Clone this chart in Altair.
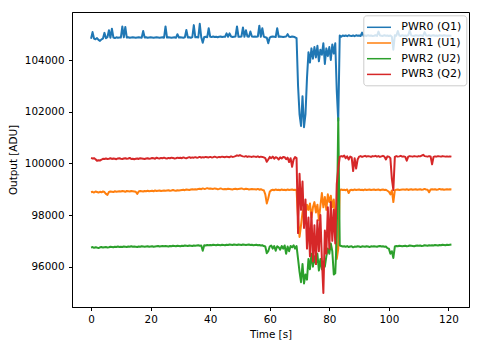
import altair as alt
import pandas as pd

# sample times (0.5 s sampling, 0 .. 121 s)
times = [round(i * 0.5, 1) for i in range(243)]

series_names = ["PWR0 (Q1)", "PWR1 (U1)", "PWR2 (U2)", "PWR3 (Q2)"]
series_colors = ["#1f77b4", "#ff7f0e", "#2ca02c", "#d62728"]

pwr0 = [
    104820, 105080, 104830, 104800, 104850, 104780, 104740, 104800, 104830, 105050,
    104840, 104880, 105150, 104860, 105210, 104870, 104850, 104880, 104860, 104870,
    104870, 105300, 104880, 105280, 104870, 104880, 104860, 104870, 104880, 104870,
    104860, 104870, 104880, 104870, 104860, 105120, 104870, 104880, 104860, 104870,
    104880, 104870, 104860, 104870, 104880, 104870, 104860, 104870, 104880, 104860,
    105300, 104870, 104880, 104870, 104860, 104870, 104880, 104860, 105000, 104870,
    104880, 104870, 104860, 104880, 105160, 104870, 104880, 104860, 104890, 105350,
    104880, 104890, 104870, 105400, 104880, 104670, 104890, 104900, 104880, 105230,
    104900, 104890, 104910, 104890, 104900, 104880, 104900, 104910, 104890, 104900,
    104900, 105030, 104900, 105030, 104910, 104890, 104900, 104910, 105300, 104900,
    104900, 104910, 105260, 104900, 105150, 104910, 104900, 105100, 104910, 104900,
    104910, 104900, 104910, 105330, 104900, 105230, 104910, 104880, 104860, 104650,
    104870, 104900, 104910, 104900, 104890, 105230, 104900, 104910, 104900, 104890,
    104900, 104910, 105000, 104900, 104890, 104910, 104900, 104880, 104850, 103000,
    101900, 101450, 102600, 101400, 101900, 103300, 104300, 103900, 104450, 104050,
    104500, 104100, 104550, 103950, 104400, 104200, 104650, 103850, 104450, 104150,
    104500, 104000, 104600, 104250, 104650, 102800, 101650, 104950, 104900, 104950,
    104930, 104950, 104920, 104960, 104940, 104930, 104950, 104920, 104960, 104940,
    104950, 104930, 105060, 104940, 104950, 104930, 104960, 104940, 104950, 104930,
    104940, 104960, 104930, 105100, 104950, 104940, 104930, 104960, 104940, 104950,
    104930, 104950, 104900, 104400, 104960, 104940, 105120, 104950, 104930, 104960,
    104940, 104950, 104930, 104960, 105150, 104950, 104940, 104930, 104960, 104950,
    104940, 104960, 104950, 104930, 105080, 104950, 104940, 104960, 104930, 104950,
    104960, 104940, 104950, 104930, 104960, 104950, 104940, 104960, 104950, 104940,
    104950, 104940, 104950,
]

pwr1 = [
    98880, 98900, 98870, 98910, 98890, 98870, 98900, 98880, 98910, 98890,
    98820, 98780, 98890, 98910, 98900, 98890, 98920, 98900, 98910, 98920,
    98910, 98930, 98920, 98900, 98930, 98920, 98910, 98930, 98920, 98910,
    98900, 98820, 98910, 98930, 98920, 98910, 98930, 98920, 98940, 98920,
    98930, 98940, 98920, 98950, 98930, 98940, 98950, 98930, 98940, 98950,
    98940, 98950, 98960, 98940, 98950, 98970, 98950, 98940, 98960, 98950,
    98960, 98970, 98980, 98960, 98990, 98980, 98970, 98990, 99000, 98990,
    99000, 98990, 99010, 99020, 99000, 99030, 99010, 99020, 99040, 99020,
    99030, 99020, 99010, 99030, 99020, 99000, 99010, 99030, 99010, 99000,
    99010, 99000, 99020, 99010, 99000, 98990, 99010, 99020, 99000, 99010,
    99020, 99030, 99010, 99000, 99020, 99010, 98990, 99000, 99010, 99000,
    99000, 98990, 99010, 98980, 99000, 98970, 98960, 98800, 98450, 98650,
    98900, 98960, 98980, 98960, 98990, 98970, 98980, 98960, 98990, 98970,
    98980, 98960, 98990, 98970, 98980, 98990, 98970, 98980, 98950, 97900,
    97150, 97600, 98100, 98300, 98000, 98400, 98200, 98450, 97900, 98300,
    98500, 98100, 98400, 97800, 98350, 98850, 98300, 98700, 98200, 98800,
    98500, 98750, 98300, 98600, 97800, 96300, 96700, 98950, 98990, 98970,
    98980, 98960, 98990, 98850, 98970, 98980, 98960, 98990, 98970, 98980,
    98990, 98970, 98980, 98960, 98990, 98970, 98980, 98990, 98970, 98980,
    98990, 98970, 98980, 98990, 98960, 98980, 98990, 98970, 98980, 98940,
    98900, 98800, 98950, 98500, 98950, 98980, 98990, 98970, 98980, 98990,
    98990, 98980, 99000, 98970, 98990, 99000, 98980, 98990, 99000, 98980,
    98990, 99000, 98980, 98990, 99010, 98990, 98980, 98880, 98990, 99000,
    98990, 99000, 98980, 98990, 99010, 98990, 99000, 98980, 98990, 99000,
    98990, 99000, 98990,
]

pwr2 = [
    96740, 96760, 96730, 96750, 96740, 96720, 96750, 96760, 96740, 96750,
    96760, 96740, 96750, 96770, 96760, 96750, 96770, 96760, 96780, 96760,
    96770, 96760, 96780, 96770, 96760, 96780, 96770, 96790, 96770, 96780,
    96770, 96760, 96780, 96770, 96790, 96780, 96770, 96780, 96790, 96770,
    96780, 96790, 96770, 96780, 96790, 96800, 96780, 96790, 96800, 96790,
    96800, 96790, 96780, 96800, 96790, 96810, 96800, 96790, 96810, 96800,
    96790, 96810, 96800, 96820, 96810, 96800, 96820, 96810, 96800, 96820,
    96810, 96820, 96830, 96810, 96820, 96620, 96830, 96820, 96840, 96830,
    96840, 96830, 96850, 96840, 96830, 96850, 96840, 96830, 96850, 96840,
    96830, 96850, 96840, 96860, 96850, 96840, 96860, 96850, 96840, 96860,
    96850, 96840, 96860, 96850, 96840, 96850, 96860, 96840, 96850, 96830,
    96840, 96850, 96830, 96840, 96820, 96830, 96800, 96780, 96520, 96600,
    96780, 96820, 96700, 96800, 96620, 96790, 96750, 96660, 96800, 96700,
    96820, 96500, 96780, 96600, 96800, 96750, 96830, 96700, 96800, 96300,
    95800, 95400, 96100, 95350, 95700, 95500, 96300, 95900, 96500, 96000,
    96400, 96100, 96500, 95850, 96300, 95900, 96200, 96000, 96400, 96700,
    96500, 96900, 96600, 95700, 95750, 97200, 101750, 96820, 96800, 96780,
    96790, 96770, 96800, 96760, 96780, 96790, 96750, 96780, 96770, 96790,
    96780, 96760, 96790, 96780, 96770, 96790, 96780, 96760, 96790, 96780,
    96790, 96780, 96770, 96790, 96800, 96780, 96790, 96770, 96780, 96720,
    96700, 96500, 96600, 96340, 96780, 96800, 96790, 96810, 96800, 96790,
    96800, 96810, 96790, 96800, 96820, 96810, 96800, 96790, 96810, 96820,
    96810, 96820, 96800, 96810, 96830, 96820, 96810, 96830, 96820, 96830,
    96820, 96840, 96830, 96820, 96840, 96830, 96850, 96840, 96830, 96850,
    96840, 96850, 96860,
]

pwr3 = [
    100210, 100190, 100200, 100160, 100100, 100120, 100110, 100140, 100180, 100170,
    100190, 100170, 100180, 100200, 100170, 100190, 100180, 100160, 100190, 100200,
    100180, 100170, 100190, 100200, 100180, 100190, 100210, 100170, 100180, 100160,
    100180, 100190, 100170, 100200, 100190, 100180, 100170, 100190, 100200, 100180,
    100190, 100210, 100200, 100180, 100220, 100200, 100190, 100210, 100200, 100220,
    100200, 100190, 100210, 100200, 100220, 100210, 100190, 100200, 100220, 100210,
    100220, 100200, 100230, 100210, 100200, 100220, 100240, 100210, 100230, 100220,
    100240, 100220, 100230, 100250, 100220, 100240, 100230, 100250, 100240, 100230,
    100250, 100230, 100240, 100260, 100240, 100230, 100250, 100240, 100260, 100250,
    100240, 100260, 100250, 100240, 100270, 100250, 100260, 100280, 100310, 100290,
    100320, 100290, 100270, 100260, 100280, 100250, 100270, 100260, 100250, 100270,
    100260, 100250, 100270, 100240, 100260, 100250, 100230, 100200, 100060, 100150,
    100250, 100200, 100260, 100180, 100240, 100210, 100150, 100230, 100190, 100250,
    100240, 100160, 100220, 100050, 100200, 99870, 100150, 100240, 100200, 97300,
    99600, 98200, 99300, 97500, 98600, 96700, 97900, 96400, 98100, 96200,
    97600, 96100, 97800, 96600, 98000, 96300, 94980, 97400, 96500, 98300,
    96700, 98500, 97000, 98200, 96900, 99200, 99800, 100250, 100280, 100260,
    100300, 100200, 100270, 100150, 100260, 100230, 99700, 100200, 99800, 100150,
    100260, 100280, 100250, 100270, 100290, 100260, 100280, 100270, 100250, 100280,
    100270, 100290, 100260, 100280, 100250, 100270, 100290, 100260, 100150, 100270,
    100260, 100200, 99400, 98970, 100250, 100280, 100260, 100270, 100290, 100260,
    100270, 100250, 100100, 100260, 100280, 100270, 100260, 100280, 100270, 100260,
    100280, 100270, 100300, 100330, 100280, 100270, 100260, 100280, 100270, 99960,
    100250, 100270, 100260, 100280, 100270, 100260, 100280, 100270, 100260, 100270,
    100260, 100270, 100260,
]

x_ticks = [0, 20, 40, 60, 80, 100, 120]
y_ticks = [96000, 98000, 100000, 102000, 104000]

frames = []
for name, vals in zip(series_names, [pwr0, pwr1, pwr2, pwr3]):
    frames.append(pd.DataFrame({"t": times, "v": vals, "s": name}))
df = pd.concat(frames, ignore_index=True)

FONT = "DejaVu Sans"

chart = alt.Chart(df).mark_line(strokeWidth=2, strokeJoin="round", clip=True).encode(
    x=alt.X("t:Q", scale=alt.Scale(domain=[-6.4, 126.9], nice=False, zero=False),
            axis=alt.Axis(title="Time [s]", values=x_ticks, format="d", grid=False,
                          tickSize=3.5, labelPadding=3.5, titleY=27, titleBaseline="middle",
                          titlePadding=0)),
    y=alt.Y("v:Q", scale=alt.Scale(domain=[94440, 105858], nice=False, zero=False),
            axis=alt.Axis(title="Output [ADU]", values=y_ticks, format="d", grid=False,
                          tickSize=3.5, labelPadding=4.5, titleX=-59, titleY=147.5,
                          titleBaseline="middle", titleAngle=-90)),
    color=alt.Color("s:N", scale=alt.Scale(domain=series_names, range=series_colors),
                    legend=alt.Legend(orient="none", legendX=291.3, legendY=3.3, title=None,
                                      symbolType="M-1.38,0H2.62", symbolSize=144,
                                      symbolStrokeWidth=1.5, labelFontSize=11, labelFont=FONT,
                                      labelColor="black", labelOffset=19, padding=5,
                                      rowPadding=3.7, fillColor="rgba(255,255,255,0.8)",
                                      strokeColor="#cccccc", cornerRadius=3, labelLimit=300)),
    detail="s:N",
).properties(
    width=397, height=295,
    autosize=alt.AutoSizeParams(type="none"),
    padding={"left": 72, "top": 12, "right": 11, "bottom": 40},
).configure_view(
    stroke="black", strokeWidth=1
).configure_axis(
    labelFont=FONT, titleFont=FONT, labelFontSize=10.4, titleFontSize=10.4,
    labelColor="black", titleColor="black", tickColor="black", domainColor="black",
    titleFontWeight="normal", domainWidth=1, tickWidth=1
)

chart.save("out.html", embed_options={"renderer": "svg", "actions": False})
